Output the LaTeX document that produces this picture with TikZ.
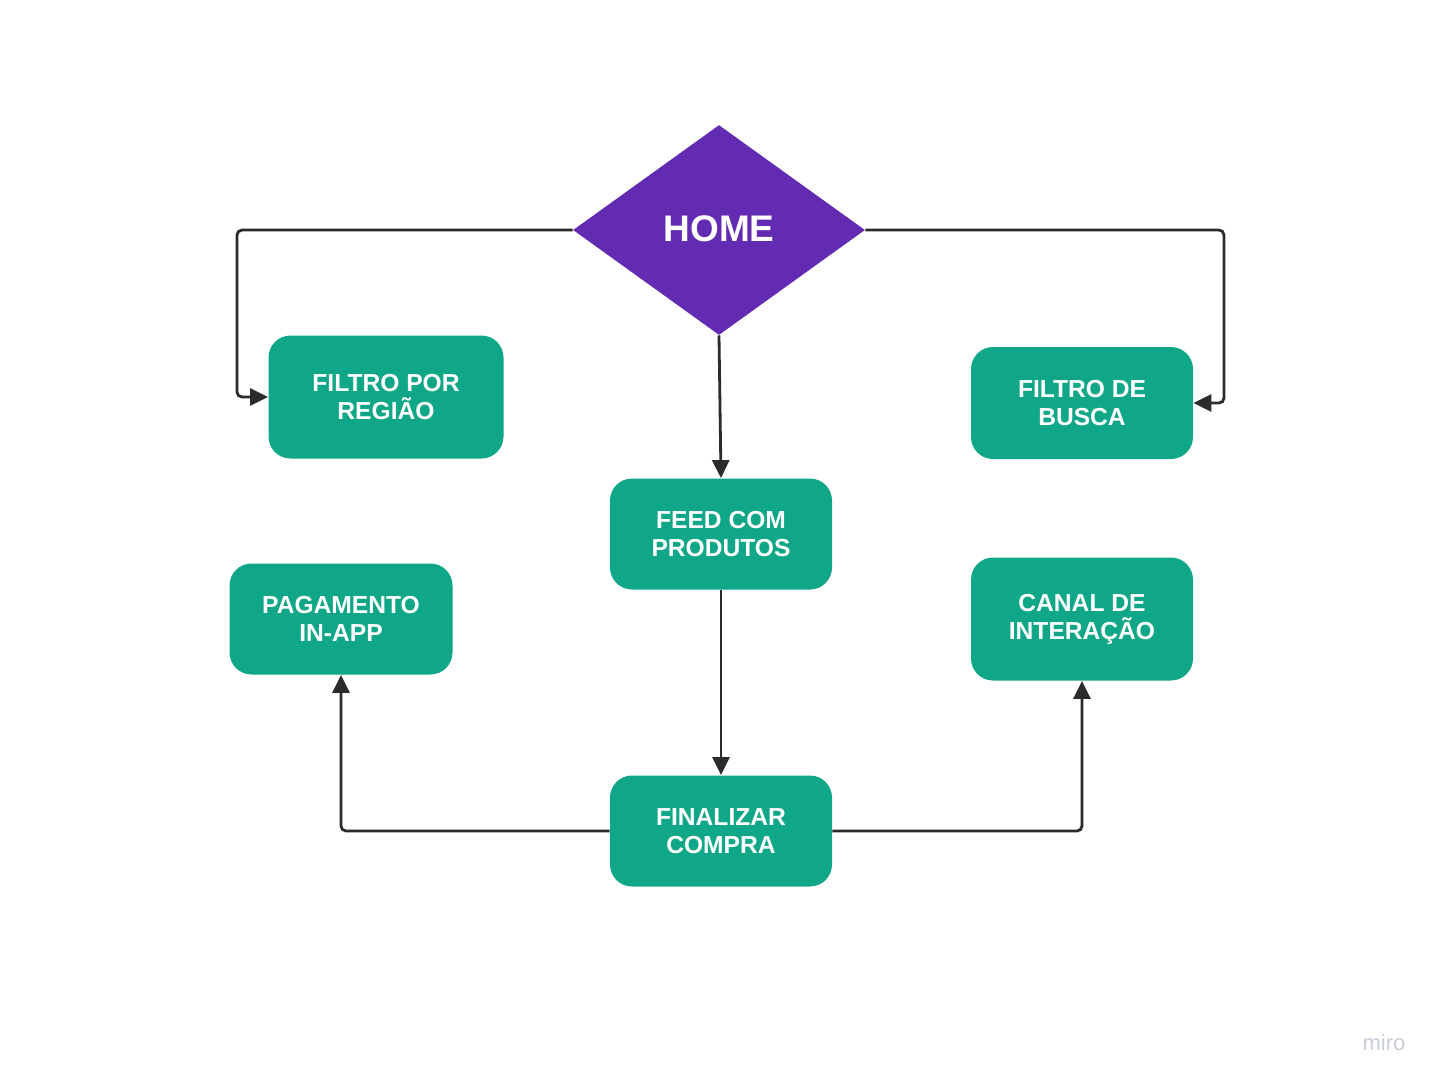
\documentclass[tikz,border=0pt]{standalone}
\usepackage{fontspec}
\setmainfont{Liberation Sans}
\usetikzlibrary{shapes.geometric,arrows.meta}

\definecolor{homePurple}{HTML}{632AB2}
\definecolor{stepGreen}{HTML}{0FA787}
\definecolor{linkGray}{HTML}{2B2B2B}
\definecolor{miroGray}{HTML}{C9CCDA}

\tikzset{
    homenode/.style={diamond, fill=homePurple, text=white, inner sep=0pt,
        minimum width=146pt, minimum height=105pt, font=\fontsize{18.5}{20}\selectfont\bfseries},
    stepbox/.style={rectangle, rounded corners=11pt, fill=stepGreen, text=white,
        align=center, inner sep=0pt, font=\fontsize{12.3}{14}\selectfont\bfseries},
    link/.style={draw=linkGray, line width=1.4pt, rounded corners=2.5pt,
        -{Triangle[length=9pt,width=8.5pt]}}
}

\begin{document}
\begin{tikzpicture}[x=0.5pt, y=-0.5pt]
    \useasboundingbox (0,0) rectangle (1440,1084);

    \node[homenode] (home) at (719,230) {\raisebox{1.5pt}{HOME}};

    \node[stepbox, minimum width=117.5pt, minimum height=61.5pt] (filtroRegiao) at (386,397) {FILTRO POR\\REGIÃO};
    \node[stepbox, minimum width=111pt, minimum height=56pt] (filtroBusca) at (1082,403) {FILTRO DE\\BUSCA};
    \node[stepbox, minimum width=111pt, minimum height=55.5pt] (feed) at (721,534) {FEED COM\\PRODUTOS};
    \node[stepbox, minimum width=111.5pt, minimum height=55.5pt] (pagamento) at (341,619) {PAGAMENTO\\IN-APP};
    \node[stepbox, minimum width=111pt, minimum height=61.5pt] (canal) at (1082,619) {CANAL DE\\INTERAÇÃO};
    \node[stepbox, minimum width=111pt, minimum height=55.5pt] (finalizar) at (721,831) {FINALIZAR\\COMPRA};

    \draw[link] (home.west) -| (237,397) -- (filtroRegiao.west);
    \draw[link] (home.east) -| (1224,403) -- (filtroBusca.east);
    \draw[link] (home.south) -- (feed.north);
    \draw[link] (feed.south) -- (finalizar.north);
    \draw[link] (finalizar.west) -| (pagamento.south);
    \draw[link] (finalizar.east) -| (canal.south);

    \node[text=miroGray, font=\fontsize{11}{12}\selectfont] (miro) at (1384,1043) {miro};
\end{tikzpicture}
\end{document}
